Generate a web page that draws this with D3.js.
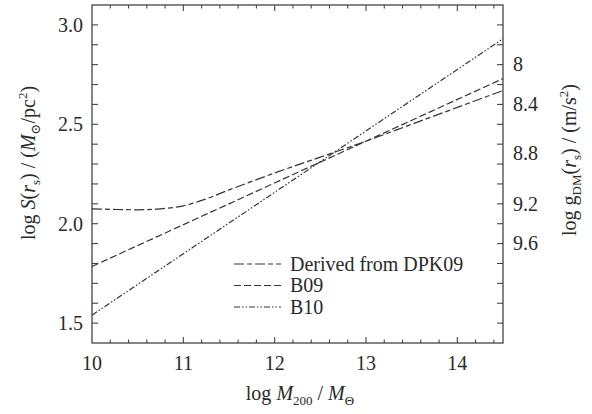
<!DOCTYPE html>
<html lang="en">
<head>
<meta charset="UTF-8">
<title>log S(rs) vs log M200</title>
<style>
  body { margin: 0; background: #fff; }
  svg { display: block; font-family: "Liberation Serif", "DejaVu Serif", serif; }
  .frame { fill: none; stroke: #444; stroke-width: 1.3; }
  .lbl { fill: #2a2a2a; font-size: 20px; }
  .curve { fill: none; stroke: #333; stroke-width: 1.2; }
</style>
</head>
<body>
<svg id="chart" width="592" height="414"></svg>
<script src="https://d3js.org/d3.v7.min.js"></script>
<script>
// values
const massGrid = [10, 10.5, 10.75, 11, 11.25, 11.5, 12, 12.5, 13, 13.5, 14, 14.5];
const derivedDPK09 = [2.075, 2.07, 2.075, 2.09, 2.125, 2.17, 2.255, 2.335, 2.415, 2.50, 2.585, 2.67];
const massLine = [10, 14.5];
const b09 = [1.785, 2.73];
const b10 = [1.54, 2.93];

const xMajor = [10, 11, 12, 13, 14];
const yMajor = [1.5, 2.0, 2.5, 3.0];
// right-hand labels, placed at the left-axis value where they sit
const gLabels = ["8", "8.4", "8.8", "9.2", "9.6"];
const gAt = [2.8, 2.6, 2.355, 2.1, 1.9];

const series = [
  { name: "Derived from DPK09", x: massGrid, y: derivedDPK09, dash: "10,3,5,3" },
  { name: "B09", x: massLine, y: b09, dash: "7,3" },
  { name: "B10", x: massLine, y: b10, dash: "6,2,1.5,2,1.5,2" }
];

const svg = d3.select("#chart");
const pLeft = 92, pRight = 503, pTop = 5, pBottom = 343;

const x = d3.scaleLinear().domain([10, 14.5]).range([pLeft, pRight]);
const y = d3.scaleLinear().domain([1.4, 3.1]).range([pBottom, pTop]);

// ticks: x every 0.2, y every 0.1, all pointing inward
const xTicks = d3.range(10.2, 14.5, 0.2).map(v => +v.toFixed(1));
const yTicks = d3.range(1.5, 3.05, 0.1).map(v => +v.toFixed(1));
const isMajorX = v => Math.abs(v - Math.round(v)) < 1e-6;

const g = svg.append("g").attr("stroke", "#444").attr("stroke-width", 1.1);

g.selectAll(".xb").data(xTicks).join("line").attr("class", "xb")
  .attr("x1", d => x(d)).attr("x2", d => x(d))
  .attr("y1", pBottom).attr("y2", d => pBottom - (isMajorX(d) ? 6 : 3.5));
g.selectAll(".xt").data(xTicks).join("line").attr("class", "xt")
  .attr("x1", d => x(d)).attr("x2", d => x(d))
  .attr("y1", pTop).attr("y2", d => pTop + (isMajorX(d) ? 6 : 3.5));
g.selectAll(".yl").data(yTicks).join("line").attr("class", "yl")
  .attr("x1", pLeft).attr("x2", pLeft + 6)
  .attr("y1", d => y(d)).attr("y2", d => y(d));
g.selectAll(".yr").data(yTicks).join("line").attr("class", "yr")
  .attr("x1", pRight).attr("x2", pRight - 6)
  .attr("y1", d => y(d)).attr("y2", d => y(d));

svg.append("rect").attr("class", "frame")
  .attr("x", pLeft).attr("y", pTop)
  .attr("width", pRight - pLeft).attr("height", pBottom - pTop);

// tick labels
svg.selectAll(".xl").data(xMajor).join("text").attr("class", "lbl")
  .attr("x", d => x(d)).attr("y", 370).attr("text-anchor", "middle")
  .text(d => d);
svg.selectAll(".ylab").data(yMajor).join("text").attr("class", "lbl")
  .attr("x", 83).attr("y", d => y(d)).attr("dy", "0.34em").attr("text-anchor", "end")
  .text(d => d.toFixed(1));
svg.selectAll(".glab").data(gLabels).join("text").attr("class", "lbl")
  .attr("x", 513).attr("y", (d, i) => y(gAt[i])).attr("dy", "0.34em")
  .text(d => d);

// curves
const line = d3.line().x(d => x(d[0])).y(d => y(d[1])).curve(d3.curveCatmullRom);
svg.append("g").selectAll("path").data(series).join("path")
  .attr("class", "curve")
  .attr("stroke-dasharray", d => d.dash)
  .attr("d", d => line(d.x.map((v, i) => [v, d.y[i]])));

// legend
const leg = svg.append("g").selectAll("g").data(series).join("g")
  .attr("transform", (d, i) => `translate(234,${264 + i * 21.5})`);
leg.append("line").attr("class", "curve")
  .attr("x1", 0).attr("x2", 47).attr("y1", 0).attr("y2", 0)
  .attr("stroke-dasharray", d => d.dash);
leg.append("text").attr("class", "lbl").attr("x", 56).attr("dy", "0.34em")
  .text(d => d.name);

// rich text helper: parts are [text, style] with style in "", "i", "sub", "sup"
function rich(sel, parts) {
  let shift = 0;
  parts.forEach(([t, s]) => {
    const ts = sel.append("tspan").text(t);
    let want = 0;
    if (s.includes("sub")) { want = 5; ts.style("font-size", "13px"); }
    if (s.includes("sup")) { want = -8; ts.style("font-size", "13px"); }
    if (s === "i") ts.style("font-style", "italic");
    if (want !== shift) { ts.attr("dy", want - shift); shift = want; }
  });
}

// axis titles
rich(svg.append("text").attr("class", "lbl").attr("x", 300).attr("y", 400)
  .attr("text-anchor", "middle"),
  [["log ", ""], ["M", "i"], ["200", "sub"], [" / ", ""], ["M", "i"], ["\u0398", "sub"]]);

rich(svg.append("text").attr("class", "lbl")
  .attr("transform", "translate(35,163) rotate(-90)").attr("text-anchor", "middle"),
  [["log ", ""], ["S", "i"], ["(", ""], ["r", "i"], ["s", "sub"], [") / (", ""],
   ["M", "i"], ["\u2299", "sub"], ["/pc", ""], ["2", "sup"], [")", ""]]);

rich(svg.append("text").attr("class", "lbl")
  .attr("transform", "translate(576,160) rotate(-90)").attr("text-anchor", "middle"),
  [["log g", ""], ["DM", "sub"], ["(", ""], ["r", "i"], ["s", "sub"], [") / (m/s", ""],
   ["2", "sup"], [")", ""]]);
</script>
</body>
</html>
